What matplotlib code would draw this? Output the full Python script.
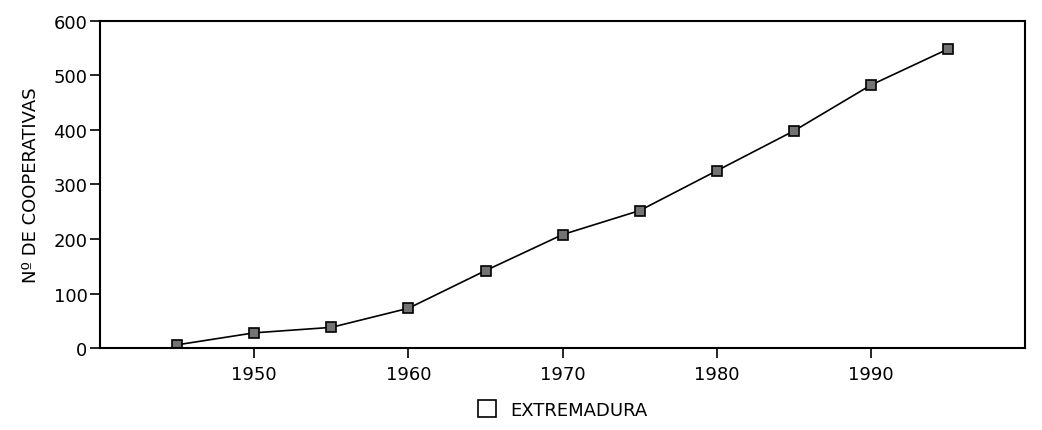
import matplotlib.pyplot as plt
from matplotlib.patches import Patch

# datos (cooperativas en Extremadura)
anios = [1945, 1950, 1955, 1960, 1965, 1970, 1975, 1980, 1985, 1990, 1995]
cooperativas = [6, 28, 38, 73, 142, 208, 252, 325, 398, 482, 548]
ticks_x = [1950, 1960, 1970, 1980, 1990]
ticks_y = [0, 100, 200, 300, 400, 500, 600]

plt.rcParams['font.family'] = ['Liberation Sans Narrow', 'DejaVu Sans']

fig = plt.figure(figsize=(10.42, 4.31), dpi=100)
ax = fig.add_axes([0.096, 0.19, 0.888, 0.76])

ax.plot(anios, cooperativas, color='black', lw=1.2,
        marker='s', markersize=6.5, markerfacecolor='0.45',
        markeredgecolor='black', markeredgewidth=1.2)

ax.set_xlim(1940, 2000)
ax.set_ylim(0, 600)
ax.set_xticks(ticks_x)
ax.set_yticks(ticks_y)
ax.tick_params(axis='both', direction='out', length=7, width=1.2,
               labelsize=13, colors='black', pad=2)
ax.tick_params(axis='x', pad=5)
for s in ax.spines.values():
    s.set_linewidth(1.5)

ax.set_ylabel('Nº DE COOPERATIVAS', fontsize=13, labelpad=10)

ax.legend(handles=[Patch(facecolor='white', edgecolor='black', lw=1.2)],
          labels=['EXTREMADURA'], loc='upper center',
          bbox_to_anchor=(0.5, -0.11), frameon=False, fontsize=13,
          handlelength=1.0, handleheight=1.0, handletextpad=0.8)

fig.savefig('out.png', dpi=100)
